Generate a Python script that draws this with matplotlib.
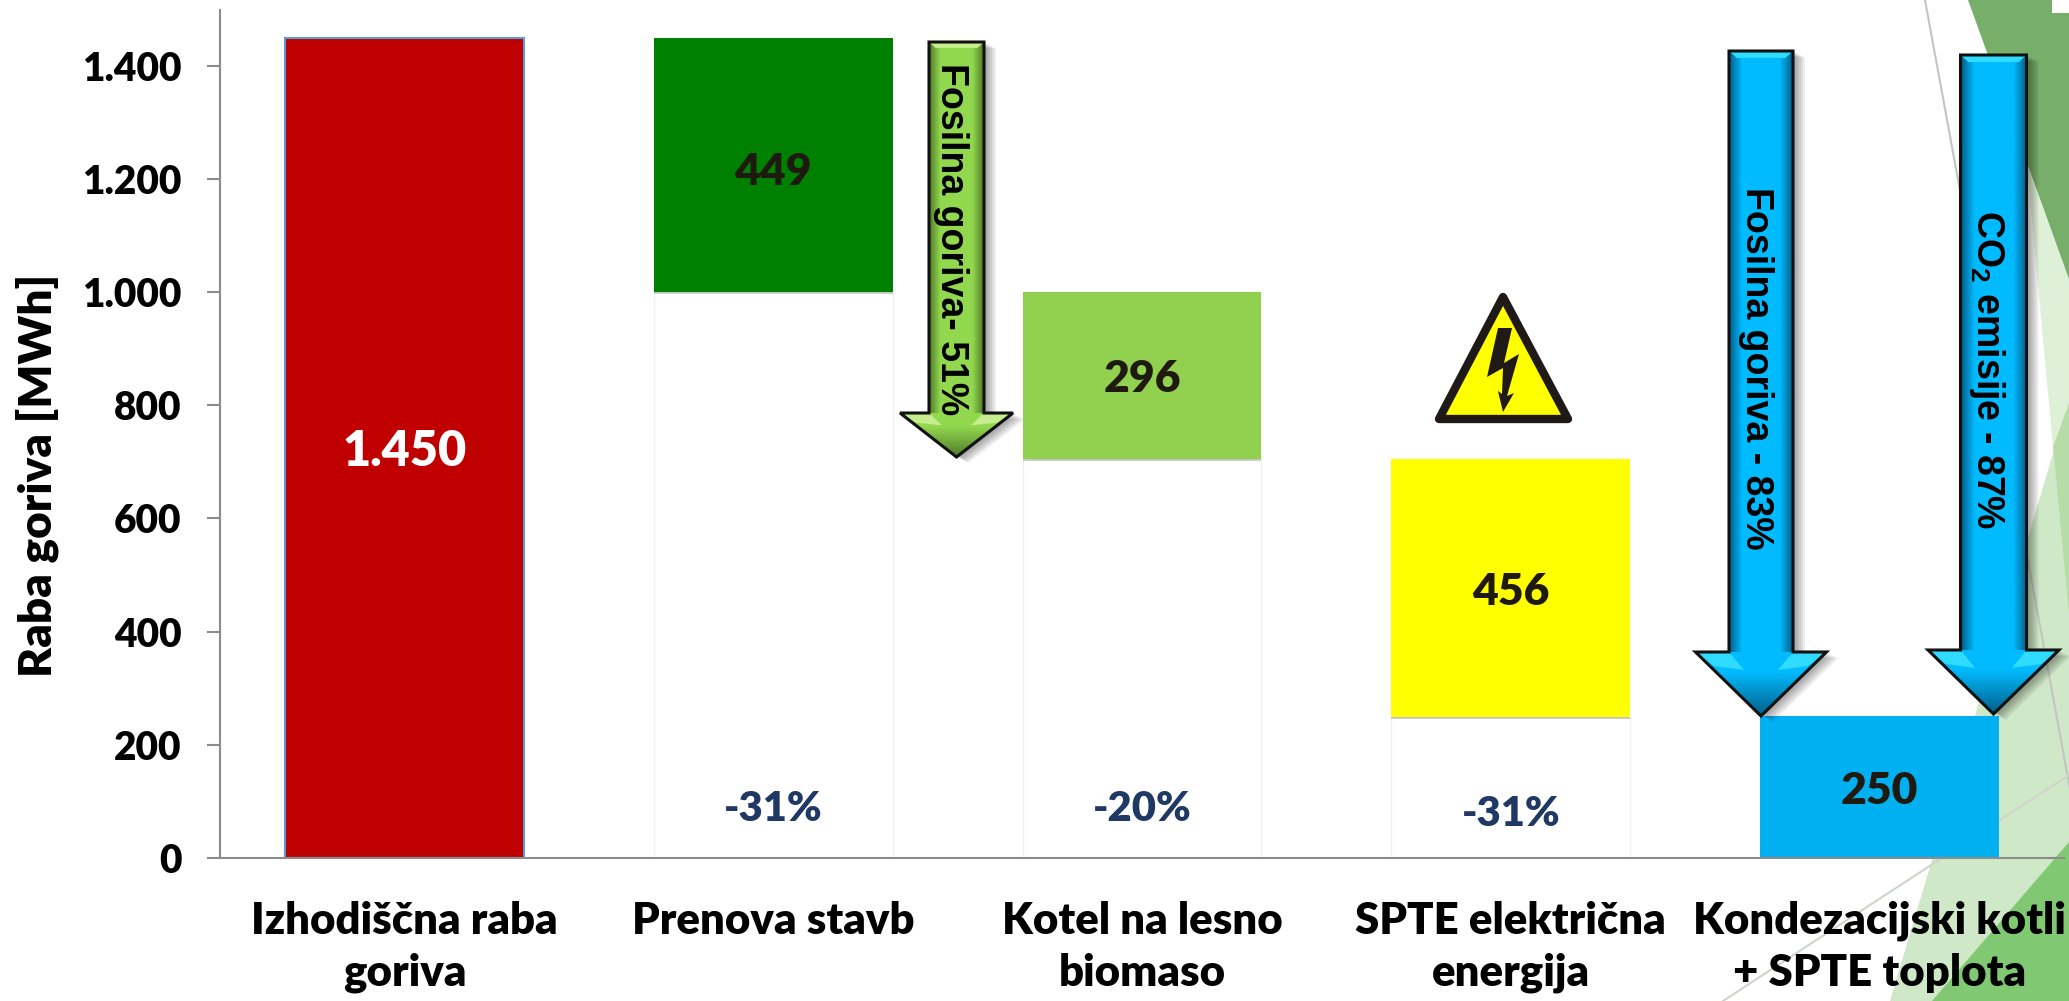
import numpy as np
import matplotlib
matplotlib.use('Agg')
import matplotlib.pyplot as plt
from matplotlib.colors import LinearSegmentedColormap
from matplotlib.patches import Polygon

W, H = 2069, 1001

# Chart data
categories = ['Izhodiščna raba\ngoriva', 'Prenova stavb', 'Kotel na lesno\nbiomaso',
              'SPTE električna\nenergija', 'Kondezacijski kotli\n+ SPTE toplota']
bar_values = [1450, 449, 296, 456, 250]
bar_bottoms = [0, 1001, 705, 249, 0]
bar_colors = ['#c00000', '#008000', '#92d050', '#ffff00', '#00b0f0']
bar_labels = ['1.450', '449', '296', '456', '250']
label_colors = ['white', '#1f1a10', '#1f1a10', '#1f1a10', '#1f1a10']
label_heights = [718, 1213, 846, 470, 118]
yticks = [0, 200, 400, 600, 800, 1000, 1200, 1400]
ytick_labels = ['0', '200', '400', '600', '800', '1.000', '1.200', '1.400']
pct_positions = [1, 2, 3]
pct_labels = ['-31%', '-20%', '-31%']
pct_heights = [87, 87, 78]

plt.rcParams['mathtext.fontset'] = 'custom'
plt.rcParams['mathtext.bf'] = 'Liberation Sans:bold'
plt.rcParams['mathtext.rm'] = 'Liberation Sans:bold'

fig = plt.figure(figsize=(W / 100, H / 100), dpi=100, facecolor='white')


def pixel_axes(zorder):
    a = fig.add_axes([0, 0, 1, 1], zorder=zorder)
    a.set_xlim(0, W)
    a.set_ylim(H, 0)
    a.axis('off')
    a.patch.set_alpha(0)
    return a


# Slide background shapes
bg = pixel_axes(0)
bg.add_patch(Polygon([(1890, 1001), (2069, 400), (2069, 1001)], fc='#cfe8c8', ec='none'))
bg.add_patch(Polygon([(1932, 1001), (2069, 842), (2069, 1001)], fc='#80c972', ec='none'))
bg.add_patch(Polygon([(2027, 165), (2069, 279), (2069, 615), (2053, 447)], fc='#dff0d8', ec='none'))
bg.add_patch(Polygon([(2053, 447), (2069, 403), (2069, 615)], fc='#b8dca8', ec='none'))
bg.add_patch(Polygon([(1968, 0), (2069, 0), (2069, 279)], fc='#77ae69', ec='none'))
bg.add_patch(Polygon([(2052, 0), (2069, 0), (2069, 13), (2052, 13)], fc='white', ec='none'))
bg.plot([1925, 2072], [0, 800], color='#c2c6c0', lw=1.5)
bg.plot([2069, 1723], [775, 1001], color='#cfd5cb', lw=1.5)

# Main chart
ax = fig.add_axes([220 / W, 1 - 857.7 / H, (2064 - 220) / W, (857.7 - 9.5) / H], zorder=1)
ax.patch.set_alpha(0)
x = np.arange(len(categories))
bar_w = 0.647

ax.bar(x[1:4], np.array(bar_bottoms[1:4]), width=bar_w, fc='none', ec='#f1f1ee', lw=1, zorder=1)
ax.bar(x, bar_values, bottom=np.array(bar_bottoms) - 4, width=bar_w, color='black', alpha=0.18, zorder=1.5)
bars = ax.bar(x, bar_values, bottom=bar_bottoms, width=bar_w, color=bar_colors, zorder=2)
bars[0].set_edgecolor('#5b9bd5')
bars[0].set_linewidth(1.5)

for i, b in enumerate(bars):
    ax.text(x[i], label_heights[i], bar_labels[i], ha='center', va='center', family='Lato',
            fontweight='heavy', color=label_colors[i], fontsize=35 if i == 0 else 32, zorder=3)

for pos, lab, h in zip(pct_positions, pct_labels, pct_heights):
    ax.text(pos, h, lab, ha='center', va='center', family='Lato', fontweight='heavy',
            color='#1f3864', fontsize=30, zorder=3)

ax.set_xlim(-0.5, 4.5)
ax.set_ylim(0, 1500)
ax.set_yticks(yticks)
ax.set_yticklabels(ytick_labels, family='Lato', fontweight='heavy', fontsize=28)
ax.set_xticks(x)
ax.set_xticklabels(categories, family='Lato', fontweight='heavy', fontsize=31.5, linespacing=1.36)
ax.tick_params(axis='y', length=9.7, width=1.5, color='#8c8c8c', pad=18)
ax.tick_params(axis='x', length=0, pad=31)
for side in ['top', 'right']:
    ax.spines[side].set_visible(False)
for side in ['left', 'bottom']:
    ax.spines[side].set_color('#8c8c8c')
    ax.spines[side].set_linewidth(1.5)
    ax.spines[side].set_zorder(4)

# Overlay with the block arrows and the warning sign
top = pixel_axes(2)


def block_arrow(cx, half_shaft, half_head, y_top, y_base, y_tip, main, dark, light):
    pts = [(cx - half_shaft, y_top), (cx + half_shaft, y_top), (cx + half_shaft, y_base),
           (cx + half_head, y_base), (cx, y_tip), (cx - half_head, y_base), (cx - half_shaft, y_base)]
    pts = np.array(pts, dtype=float)
    # soft shadow
    for off in range(2, 13, 2):
        top.add_patch(Polygon(pts + [off, off * 0.5], fc='black', alpha=0.07, ec='none', zorder=1))
    # body gradient
    cmap = LinearSegmentedColormap.from_list('shaft', [(0, dark), (0.2, main), (0.8, main), (1, dark)])
    shaft = top.imshow(np.linspace(0, 1, 64)[None, :], extent=(cx - half_shaft, cx + half_shaft, y_base, y_top),
                       cmap=cmap, aspect='auto', zorder=2)
    shaft.set_clip_path(Polygon(pts[:3].tolist() + [(cx - half_shaft, y_base)], transform=top.transData))
    head_map = LinearSegmentedColormap.from_list('head', [(0, main), (0.3, main), (1, dark)])
    head = top.imshow(np.linspace(0, 1, 64)[:, None], extent=(cx - half_head, cx + half_head, y_tip, y_base),
                      cmap=head_map, aspect='auto', zorder=2)
    head.set_clip_path(Polygon(pts[3:6], transform=top.transData))
    # bevels
    b = half_shaft * 0.24
    top.add_patch(Polygon([(cx - half_shaft, y_top), (cx + half_shaft, y_top),
                           (cx + half_shaft - b, y_top + b * 0.9), (cx - half_shaft + b, y_top + b * 0.9)],
                          fc=light, ec='none', zorder=3))
    w = half_head - half_shaft
    for s in (-1, 1):
        top.add_patch(Polygon([(cx + s * half_head, y_base), (cx + s * half_shaft, y_base),
                               (cx + s * (half_shaft - w * 0.45), y_base + (y_tip - y_base) * 0.28),
                               (cx + s * (half_head - w * 0.55), y_base + (y_tip - y_base) * 0.22)],
                              fc=light, ec='none', zorder=3))
    top.add_patch(Polygon(pts, fc='none', ec='#111111', lw=2.2, joinstyle='miter', zorder=4))


block_arrow(956.5, 27.5, 56.5, 42, 413, 457, '#92d84f', '#4f7a28', '#c6ee8e')
block_arrow(1761, 32, 65.5, 51, 652, 716, '#00bbff', '#005f8a', '#2fdcff')
block_arrow(1993.5, 33, 65.5, 55, 650, 714, '#00bbff', '#005f8a', '#2fdcff')

arrow_font = dict(family='Liberation Sans', fontweight='bold', fontsize=27, rotation=-90,
                  ha='center', va='center', color='black', zorder=5)
top.text(951, 239, 'Fosilna goriva- 51%', **arrow_font)
top.text(1756, 368, 'Fosilna goriva - 83%', **arrow_font)
top.text(1987, 370, r'CO$_{\mathbf{2}}$ emisije - 87%', **arrow_font)

# Warning sign
top.add_patch(Polygon([(1503, 297), (1439, 419), (1568, 419)], fc='#ffff00', ec='#1f1a17', lw=6,
                      joinstyle='round', zorder=3))
top.add_patch(Polygon([(1498, 328), (1512, 328), (1504, 363), (1519, 354), (1507, 396), (1514, 393),
                       (1503, 412), (1498, 391), (1502, 394), (1503, 368), (1487, 377)],
                      fc='#1f1a17', ec='none', zorder=4))

fig.text(37 / W, 1 - 475 / H, 'Raba goriva [MWh]', rotation=90, ha='center', va='center',
         family='Lato', fontweight='heavy', fontsize=33)

fig.savefig('out.png', dpi=100)
